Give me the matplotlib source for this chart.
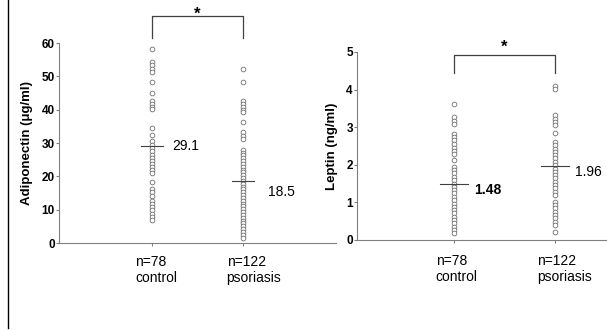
import matplotlib
matplotlib.use("Agg")
import matplotlib.pyplot as plt
from matplotlib.lines import Line2D

plt.rcParams['font.family'] = ['Liberation Sans', 'DejaVu Sans']

groups = ["control", "psoriasis"]
group_n = ["n=78", "n=122"]

adipo_control = [58.2, 54.4, 53.4, 52.3, 51.4, 48.3, 45.0, 42.5, 41.6, 40.8, 40.2,
                 34.4, 32.4, 30.6, 29.4, 28.5, 27.5, 26.5, 25.6, 24.7, 23.8, 22.9,
                 22.0, 21.1, 18.2, 16.2, 15.2, 14.2, 12.5, 11.7, 10.8, 9.8, 8.8, 7.8, 7.0]
adipo_psor = [52.2, 48.4, 42.5, 41.7, 40.9, 40.0, 39.2, 36.2, 33.2, 32.2, 31.2,
              28.0, 27.1, 26.3, 25.4, 24.6, 23.7, 22.9, 22.0, 21.2, 20.3, 19.5,
              18.6, 17.8, 16.9, 16.1, 15.2, 14.4, 13.5, 12.7, 11.8, 11.0, 10.1,
              9.3, 8.4, 7.6, 6.7, 5.9, 5.0, 4.2, 3.3, 2.5, 1.6]
adipo_mean = [29.1, 18.5]

leptin_control = [3.61, 3.26, 3.17, 3.08, 2.83, 2.74, 2.65, 2.55, 2.46, 2.37, 2.28,
                  2.12, 1.95, 1.86, 1.77, 1.68, 1.59, 1.50, 1.42, 1.33, 1.24, 1.15,
                  1.06, 0.97, 0.88, 0.80, 0.71, 0.62, 0.53, 0.44, 0.35, 0.27, 0.18]
leptin_psor = [4.09, 4.02, 3.32, 3.23, 3.14, 3.05, 2.85, 2.61, 2.52, 2.43, 2.35,
               2.26, 2.17, 2.08, 1.99, 1.90, 1.81, 1.73, 1.64, 1.55, 1.46, 1.37,
               1.28, 1.19, 1.02, 0.93, 0.84, 0.75, 0.66, 0.58, 0.49, 0.40, 0.22]
leptin_mean = [1.48, 1.96]

fig = plt.figure(figsize=(6.07, 3.3), dpi=100)
fig.add_artist(Line2D([8/607, 8/607], [0.005, 1.0], color='black', lw=1.0))

gray = '#808080'


def panel(ax, data, means, labels_pos, ylim, yticks, ylabel, bracket, star_y,
          mean_fmt, mean_bold, xlim, hw, nlab_y):
    for i, vals in enumerate(data):
        ax.plot([i + 1] * len(vals), vals, 'o', mfc='white', mec='#707070',
                ms=3.4, mew=0.6, clip_on=False, zorder=3)
        ax.plot([i + 1 - hw, i + 1 + hw], [means[i], means[i]], color='#404040',
                lw=0.8, zorder=4)
        tx, ty = labels_pos[i]
        ax.text(tx, ty, mean_fmt[i], fontsize=10,
                fontweight='bold' if mean_bold[i] else 'normal', va='center')
        ax.text(i + 0.82, nlab_y, group_n[i] + "\n" + groups[i], fontsize=10,
                ha='left', va='top', linespacing=1.15)
    ax.set_xlim(*xlim)
    ax.set_ylim(*ylim)
    ax.set_yticks(yticks)
    ax.set_xticks([1, 2])
    ax.set_xticklabels([])
    for s in ['top', 'right']:
        ax.spines[s].set_visible(False)
    for s in ['left', 'bottom']:
        ax.spines[s].set_color(gray)
    ax.tick_params(axis='y', length=2, color=gray, labelsize=8.5, pad=1)
    ax.tick_params(axis='x', length=2, color=gray)
    for lab in ax.get_yticklabels():
        lab.set_fontweight('bold')
    ax.set_ylabel(ylabel, fontsize=9.5, fontweight='bold', labelpad=6)
    b0, b1 = bracket
    ax.plot([1, 1, 2, 2], [b0, b1, b1, b0], color='#404040', lw=0.9, clip_on=False)
    ax.text(1.5, star_y, '*', fontsize=12, fontweight='bold', ha='center', va='center')


ax1 = fig.add_axes([59/607, 1 - 243/330, 277/607, 200/330])
panel(ax1, [adipo_control, adipo_psor], adipo_mean,
      [(1.22, 29.0), (2.27, 15.4)], (0, 60), range(0, 61, 10),
      'Adiponectin (\u03bcg/ml)', (61.5, 68.1), 68.5,
      ['29.1', '18.5'], [False, False], (-0.02, 3.02), 0.12, -3.6)

ax2 = fig.add_axes([357/607, 1 - 240/330, 250/607, 188/330])
panel(ax2, [leptin_control, leptin_psor], leptin_mean,
      [(1.2, 1.32), (2.2, 1.82)], (0, 5), range(0, 6),
      'Leptin (ng/ml)', (4.44, 4.92), 5.12,
      ['1.48', '1.96'], [True, False], (0.04, 2.515), 0.14, -0.38)

fig.savefig('out.png', dpi=100)
